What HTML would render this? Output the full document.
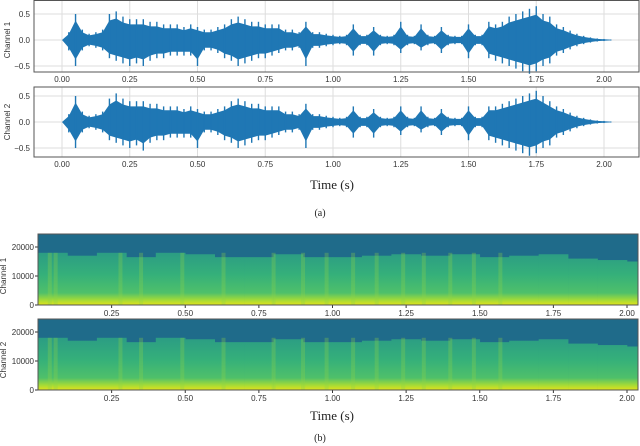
<!DOCTYPE html>
<html><head><meta charset="utf-8"><style>
body{margin:0;background:#fff}
svg{display:block;font-family:"Liberation Sans",sans-serif}
</style></head><body>
<svg id="c" width="640" height="446" viewBox="0 0 640 446">
<defs>
<linearGradient id="g1" gradientUnits="userSpaceOnUse" x1="0" y1="250" x2="0" y2="305">
<stop offset="0" stop-color="#2a9a85"/><stop offset="0.45" stop-color="#35b07a"/><stop offset="0.78" stop-color="#4fc06a"/><stop offset="0.9" stop-color="#9dd93b"/><stop offset="1" stop-color="#e0e31a"/></linearGradient>
<linearGradient id="g2" gradientUnits="userSpaceOnUse" x1="0" y1="335" x2="0" y2="390">
<stop offset="0" stop-color="#2a9a85"/><stop offset="0.45" stop-color="#35b07a"/><stop offset="0.78" stop-color="#4fc06a"/><stop offset="0.9" stop-color="#9dd93b"/><stop offset="1" stop-color="#e0e31a"/></linearGradient>
</defs>
</svg>
<script>
const times=[0,0.025,0.05,0.075,0.1,0.125,0.15,0.175,0.2,0.225,0.25,0.275,0.3,0.325,0.35,0.375,0.4,0.425,0.45,0.475,0.5,0.525,0.55,0.575,0.6,0.625,0.65,0.675,0.7,0.725,0.75,0.775,0.8,0.825,0.85,0.875,0.9,0.925,0.95,0.975,1.0,1.025,1.05,1.075,1.1,1.125,1.15,1.175,1.2,1.225,1.25,1.275,1.3,1.325,1.35,1.375,1.4,1.425,1.45,1.475,1.5,1.525,1.55,1.575,1.6,1.625,1.65,1.675,1.7,1.725,1.75,1.775,1.8,1.825,1.85,1.875,1.9,1.925,1.95,1.975,2.0,2.025];
const ch1Hi=[0,0.15,0.5,0.2,0.12,0.15,0.2,0.5,0.55,0.45,0.4,0.4,0.4,0.35,0.35,0.3,0.3,0.3,0.25,0.3,0.25,0.2,0.2,0.25,0.3,0.4,0.45,0.4,0.35,0.35,0.3,0.3,0.3,0.2,0.2,0.15,0.35,0.15,0.15,0.12,0.1,0.08,0.1,0.3,0.1,0.1,0.25,0.1,0.08,0.1,0.35,0.1,0.08,0.3,0.1,0.08,0.25,0.1,0.08,0.08,0.3,0.1,0.1,0.35,0.3,0.35,0.45,0.5,0.55,0.6,0.65,0.5,0.45,0.3,0.25,0.18,0.12,0.08,0.05,0.03,0.02,0.01];
const ch1Lo=[0,0.2,0.5,0.2,0.12,0.15,0.2,0.35,0.4,0.45,0.5,0.45,0.5,0.4,0.35,0.35,0.3,0.3,0.3,0.3,0.5,0.2,0.2,0.25,0.35,0.4,0.5,0.45,0.4,0.35,0.35,0.3,0.25,0.2,0.2,0.15,0.5,0.15,0.15,0.12,0.1,0.08,0.1,0.3,0.1,0.1,0.3,0.1,0.08,0.1,0.25,0.1,0.08,0.2,0.1,0.08,0.25,0.1,0.08,0.08,0.35,0.1,0.1,0.35,0.4,0.45,0.5,0.55,0.6,0.65,0.6,0.5,0.45,0.3,0.25,0.18,0.12,0.08,0.05,0.03,0.02,0.01];
const ch2Hi=[0,0.15,0.5,0.2,0.12,0.15,0.2,0.45,0.55,0.45,0.4,0.4,0.4,0.35,0.35,0.3,0.3,0.3,0.25,0.3,0.25,0.2,0.2,0.25,0.3,0.4,0.45,0.4,0.35,0.35,0.3,0.3,0.3,0.2,0.2,0.15,0.35,0.15,0.15,0.12,0.1,0.08,0.1,0.3,0.1,0.1,0.25,0.1,0.08,0.1,0.3,0.1,0.08,0.3,0.1,0.08,0.25,0.1,0.08,0.08,0.3,0.1,0.1,0.3,0.3,0.35,0.4,0.45,0.5,0.55,0.6,0.5,0.4,0.3,0.25,0.18,0.12,0.08,0.05,0.03,0.02,0.01];
const ch2Lo=[0,0.2,0.5,0.2,0.12,0.15,0.2,0.35,0.4,0.45,0.5,0.45,0.55,0.4,0.35,0.35,0.3,0.3,0.3,0.3,0.5,0.2,0.2,0.25,0.35,0.4,0.5,0.45,0.4,0.35,0.35,0.3,0.25,0.2,0.2,0.15,0.5,0.15,0.15,0.12,0.1,0.08,0.1,0.3,0.1,0.1,0.3,0.1,0.08,0.1,0.25,0.1,0.08,0.2,0.1,0.08,0.25,0.1,0.08,0.08,0.35,0.1,0.1,0.35,0.4,0.45,0.5,0.55,0.6,0.65,0.6,0.5,0.45,0.3,0.25,0.18,0.12,0.08,0.05,0.03,0.02,0.01];
const waveXTicks=["0.00","0.25","0.50","0.75","1.00","1.25","1.50","1.75","2.00"];
const waveYTicks=["0.5","0.0","−0.5"];
const waveYVals=[0.5,0,-0.5];
const specTimes=[0,0.1,0.2,0.3,0.4,0.5,0.6,0.7,0.8,0.9,1.0,1.1,1.2,1.3,1.4,1.5,1.6,1.7,1.8,1.9,2.0];
const specCutoff=[18000,17000,18000,16500,18000,17500,16500,16500,17500,16500,16500,17000,17500,17000,17500,16500,17000,17500,16000,15500,15000];
const onsets=[0.04,0.06,0.28,0.35,0.49,0.63,0.8,0.9,0.98,1.07,1.15,1.24,1.31,1.4,1.48,1.57];
const specXTicks=["0.25","0.50","0.75","1.00","1.25","1.50","1.75","2.00"];
const specYTicks=["20000","10000","0"];
const specYVals=[20000,10000,0];

const svg=document.getElementById('c');const NS='http://www.w3.org/2000/svg';
function mk(tag,attrs,parent){const e=document.createElementNS(NS,tag);for(const k in attrs)e.setAttribute(k,attrs[k]);(parent||svg).appendChild(e);return e;}
function txt(s,attrs){const t=mk('text',attrs);t.textContent=s;return t;}

const wx=t=>62+t*271;
function wave(top,bot,center,hi,lo,name){
  const g=mk('g',{});
  
  
  const wy=v=>center-v*52;
  waveXTicks.forEach(s=>{const x=wx(parseFloat(s));mk('line',{x1:x,x2:x,y1:top,y2:bot,stroke:'#ddd','stroke-width':1},g);
    const l=txt(s,{x:x,y:bot+10,'font-size':8,'text-anchor':'middle',fill:'#333'});
    
    });
  waveYVals.forEach((v,i)=>{const y=wy(v);mk('line',{x1:34,x2:639,y1:y,y2:y,stroke:'#ddd','stroke-width':1},g);
    const l=txt(waveYTicks[i],{x:30,y:y+3,'font-size':8,'text-anchor':'end',fill:'#333'});
    
    });
  // envelope body
  let d='M'+wx(times[0])+','+wy(hi[0]);
  times.forEach((t,i)=>{d+=' L'+wx(t)+','+wy(hi[i]*0.75);});
  for(let i=times.length-1;i>=0;i--){d+=' L'+wx(times[i])+','+wy(-lo[i]*0.75);}
  const body=mk('path',{d:d+'Z',fill:'#1f77b4'},g);
  
  
  // peaks as spikes
  times.forEach((t,i)=>{const ln=mk('line',{x1:wx(t),x2:wx(t),y1:wy(hi[i]),y2:wy(-lo[i]),stroke:'#1f77b4','stroke-width':1.4},g);
    
    });
  mk('rect',{x:34,y:top,width:605,height:bot-top,fill:'none',stroke:'#555','stroke-width':1},g);
}
wave(0.5,72,40,ch1Hi,ch1Lo,'waveform-channel-1');
wave(87,157,122,ch2Hi,ch2Lo,'waveform-channel-2');
let l=txt('Channel 1',{transform:'translate(10,40) rotate(-90)','font-size':8,'text-anchor':'middle',fill:'#333'});

l=txt('Channel 2',{transform:'translate(10,122) rotate(-90)','font-size':8,'text-anchor':'middle',fill:'#333'});

l=txt('Time (s)',{x:332,y:189,'font-size':13,'text-anchor':'middle','font-family':'Liberation Serif, serif',fill:'#222'});

l=txt('(a)',{x:320,y:216,'font-size':10,'text-anchor':'middle','font-family':'Liberation Serif, serif',fill:'#222'});


const sx=t=>38+t*294.5;
function spec(top,bot,grad,name){
  const g=mk('g',{});
  
  
  const sy=f=>bot-f*58/20000;
  mk('rect',{x:38,y:top,width:600,height:bot-top,fill:'#1f6b8a'},g);
  specTimes.forEach((t,i)=>{const x0=sx(t),x1=Math.min(638,sx(t+0.1));
    const r=mk('rect',{x:x0,y:sy(specCutoff[i]),width:x1-x0+0.3,height:bot-sy(specCutoff[i]),fill:'url(#'+grad+')'},g);
    
    });
  onsets.forEach(t=>{const r=mk('rect',{x:sx(t)-2,y:sy(18000),width:4,height:bot-sy(18000),fill:'#8fd444',opacity:0.3},g);
    
    });
  specXTicks.forEach(s=>{const x=sx(parseFloat(s));mk('line',{x1:x,x2:x,y1:bot,y2:bot+3,stroke:'#333'},g);
    const l=txt(s,{x:x,y:bot+11,'font-size':8,'text-anchor':'middle',fill:'#333'});
    
    });
  specYVals.forEach((v,i)=>{const y=sy(v);mk('line',{x1:35,x2:38,y1:y,y2:y,stroke:'#333'},g);
    const l=txt(specYTicks[i],{x:34,y:y+3,'font-size':8,'text-anchor':'end',fill:'#333'});
    
    });
  mk('rect',{x:38,y:top,width:600,height:bot-top,fill:'none',stroke:'#555','stroke-width':1},g);
}
spec(234,305,'g1','spectrogram-channel-1');
spec(319,390,'g2','spectrogram-channel-2');
l=txt('Channel 1',{transform:'translate(6,276) rotate(-90)','font-size':8,'text-anchor':'middle',fill:'#333'});

l=txt('Channel 2',{transform:'translate(6,360) rotate(-90)','font-size':8,'text-anchor':'middle',fill:'#333'});

l=txt('Time (s)',{x:332,y:420,'font-size':13,'text-anchor':'middle','font-family':'Liberation Serif, serif',fill:'#222'});

l=txt('(b)',{x:320,y:441,'font-size':10,'text-anchor':'middle','font-family':'Liberation Serif, serif',fill:'#222'});

</script>
</body></html>
